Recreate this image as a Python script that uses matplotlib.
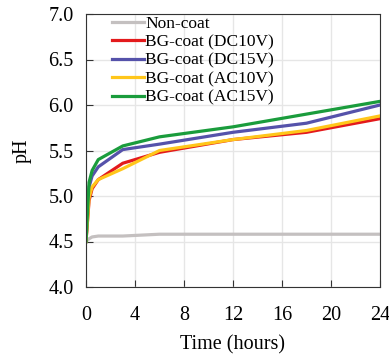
import numpy as np
import matplotlib
matplotlib.use('Agg')
from matplotlib import pyplot as plt

# time points (hours)
time = [0, 0.25, 0.5, 1, 3, 6, 12, 18, 24]

labels = ['Non-coat', 'BG-coat (DC10V)', 'BG-coat (DC15V)', 'BG-coat (AC10V)', 'BG-coat (AC15V)']
non_coat = [4.50, 4.53, 4.55, 4.56, 4.56, 4.58, 4.58, 4.58, 4.58]
dc10 = [4.50, 4.95, 5.08, 5.18, 5.36, 5.48, 5.62, 5.70, 5.85]
dc15 = [4.50, 5.10, 5.22, 5.32, 5.51, 5.57, 5.70, 5.80, 6.00]
ac10 = [4.50, 4.98, 5.10, 5.18, 5.30, 5.50, 5.62, 5.72, 5.88]
ac15 = [4.50, 5.15, 5.28, 5.40, 5.55, 5.65, 5.76, 5.90, 6.04]
colors = ['#c4c0c0', '#e31a1c', '#5552aa', '#ffc61a', '#1a9c3c']

plt.rcParams['font.family'] = ['Liberation Serif', 'DejaVu Serif']

fig = plt.figure(figsize=(3.89, 3.56), dpi=100)
ax = fig.add_axes([86 / 389, 1 - 287 / 356, (380 - 86) / 389, (287 - 14) / 356])

for y, c, lab in zip([non_coat, dc10, dc15, ac10, ac15], colors, labels):
    ax.plot(time, y, color=c, lw=2.3, label=lab)

ax.set_xlim(0, 24)
ax.set_ylim(4.0, 7.0)
ax.set_xticks(np.arange(0, 25, 4))
ax.set_yticks(np.arange(4.0, 7.01, 0.5))
ax.yaxis.set_major_formatter(matplotlib.ticker.FormatStrFormatter('%.1f'))
ax.grid(True, color='#e6e6e6', lw=1)
ax.set_axisbelow(True)
ax.tick_params(direction='in', length=5, labelsize=14.5, color='#333333')
ax.tick_params(axis='x', pad=14)
ax.tick_params(axis='y', pad=9)
for s in ax.spines.values():
    s.set_color('#333333')

ax.set_xlabel('Time (hours)', fontsize=14.5, labelpad=7)
ax.set_ylabel('pH', fontsize=14.5, labelpad=12)

ax.legend(loc='upper left', frameon=False, fontsize=12.5, handlelength=1.85,
          handletextpad=0.05, labelspacing=0.13, borderaxespad=0.1,
          bbox_to_anchor=(0.06, 1.025))

fig.savefig('out.png', dpi=100)
